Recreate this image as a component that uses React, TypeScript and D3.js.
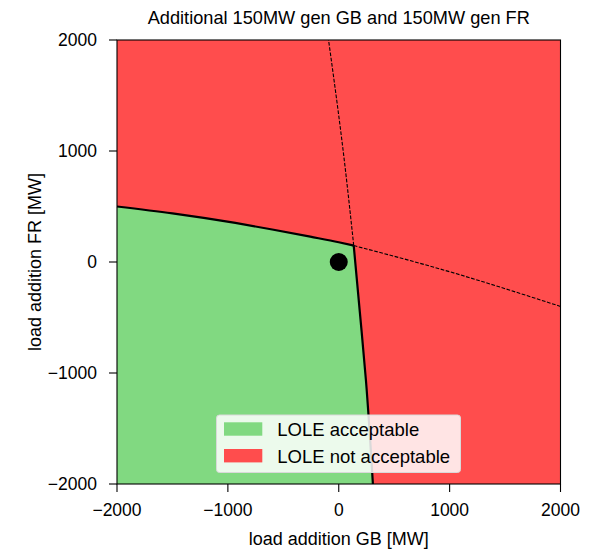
import React from "react";
import * as d3 from "d3";

const xTicks = [-2000, -1000, 0, 1000, 2000];
const yTicks = [-2000, -1000, 0, 1000, 2000];

// solid boundary: upper limit (GB load vs FR load)
const upperBoundary: [number, number][] = [
  [-2000, 500], [-1500, 438], [-933, 352], [-600, 293], [-257, 228], [0, 178], [135, 148],
];
// solid boundary: right limit
const rightBoundary: [number, number][] = [
  [135, 148], [190, -450], [245, -1063], [308, -2000],
];
// dashed continuation lines
const dashedUp: [number, number][] = [[135, 148], [40, 1000], [-92, 2000]];
const dashedRight: [number, number][] = [[135, 148], [915, -63], [2000, -400]];

const point: [number, number] = [0, 0];

const legendItems = [
  { label: "LOLE acceptable", color: "#81d981" },
  { label: "LOLE not acceptable", color: "#ff4d4d" },
];

export default function App() {
  const W = 592, H = 554;
  const L = 117, R = 560.5, T = 40, B = 484;
  const x = d3.scaleLinear().domain([-2000, 2000]).range([L, R]);
  const y = d3.scaleLinear().domain([-2000, 2000]).range([B, T]);
  const line = d3.line<[number, number]>().x(d => x(d[0])).y(d => y(d[1])).curve(d3.curveMonotoneX);
  const lineY = d3.line<[number, number]>().x(d => x(d[0])).y(d => y(d[1])).curve(d3.curveMonotoneY);
  const greenPath =
    (line(upperBoundary) || "") +
    (lineY(rightBoundary) || "").replace(/^M[^LC]*/, "L" + x(rightBoundary[0][0]) + "," + y(rightBoundary[0][1])) +
    `L${x(-2000)},${y(-2000)}Z`;
  const font = "'Liberation Sans', Arial, sans-serif";
  const fmt = (t: number) => (t < 0 ? "\u2212" + Math.abs(t) : String(t));
  const tick = 8;
  return (
    <svg width={W} height={H} style={{ position: "absolute", left: 0, top: 0 }} fontFamily={font}>
      <rect x={0} y={0} width={W} height={H} fill="white" />
      <text x={(L + R) / 2} y={24} textAnchor="middle" fontSize={18.2}>
        Additional 150MW gen GB and 150MW gen FR
      </text>
      <rect x={L} y={T} width={R - L} height={B - T} fill={legendItems[1].color} />
      <path d={greenPath} fill={legendItems[0].color} />
      <path d={line(dashedRight) || ""} fill="none" stroke="black" strokeWidth={1.1} strokeDasharray="3.7,1.6" />
      <path d={lineY(dashedUp) || ""} fill="none" stroke="black" strokeWidth={1.1} strokeDasharray="3.7,1.6" />
      <path d={line(upperBoundary) || ""} fill="none" stroke="black" strokeWidth={2.2} />
      <path d={lineY(rightBoundary) || ""} fill="none" stroke="black" strokeWidth={2.2} />
      <circle cx={x(point[0])} cy={y(point[1])} r={9} fill="black" />
      <rect x={L} y={T} width={R - L} height={B - T} fill="none" stroke="black" strokeWidth={1.1} />
      {xTicks.map(t => (
        <g key={"x" + t}>
          <line x1={x(t)} x2={x(t)} y1={B} y2={B + tick} stroke="black" strokeWidth={1.1} />
          <text x={x(t)} y={516} textAnchor="middle" fontSize={17.5}>{fmt(t)}</text>
        </g>
      ))}
      {yTicks.map(t => (
        <g key={"y" + t}>
          <line x1={L - tick} x2={L} y1={y(t)} y2={y(t)} stroke="black" strokeWidth={1.1} />
          <text x={97} y={y(t) + 6} textAnchor="end" fontSize={17.5}>{fmt(t)}</text>
        </g>
      ))}
      <text x={(L + R) / 2} y={545} textAnchor="middle" fontSize={18}>load addition GB [MW]</text>
      <text transform={`translate(41,${(T + B) / 2}) rotate(-90)`} textAnchor="middle" fontSize={18}>load addition FR [MW]</text>
      <g>
        <rect x={216.5} y={415} width={244} height={57.5} rx={3} fill="white" fillOpacity={0.85} stroke="#d9d9d9" strokeWidth={1} />
        {legendItems.map((it, i) => (
          <g key={it.label}>
            <rect x={224} y={422.3 + i * 26.7} width={38.3} height={13.4} fill={it.color} />
            <text x={277.3} y={436 + i * 26.7} fontSize={18.5}>{it.label}</text>
          </g>
        ))}
      </g>
    </svg>
  );
}
